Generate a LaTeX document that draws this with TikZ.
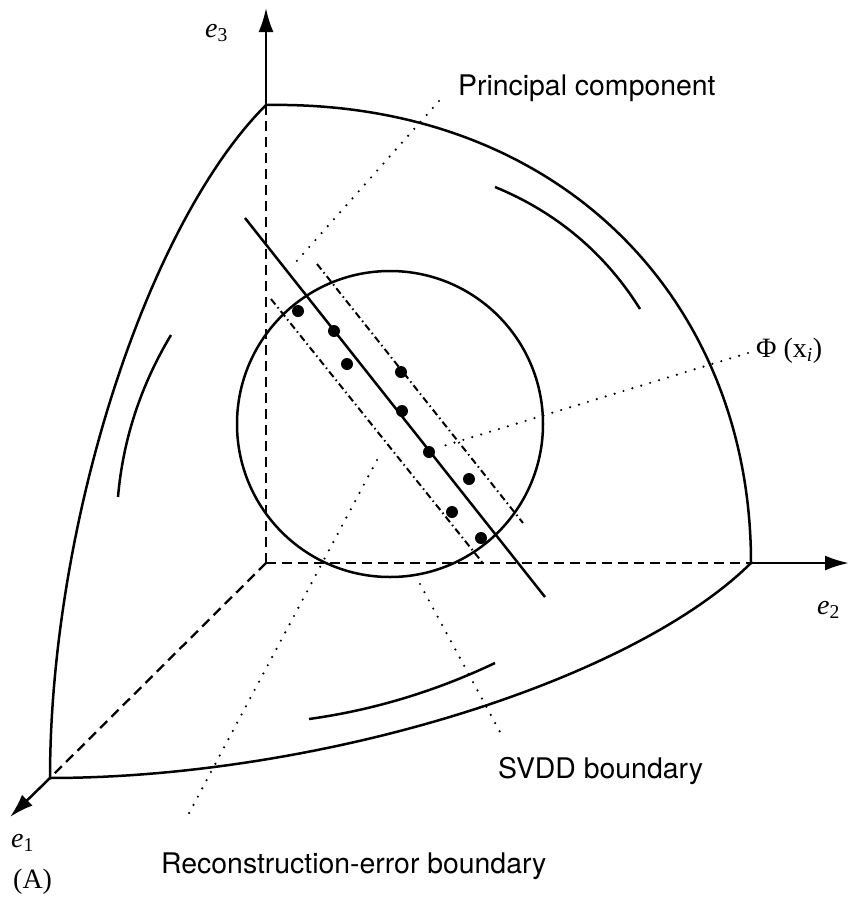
\documentclass[tikz,border=0pt]{standalone}
\usepackage{fontspec}
\newfontfamily\heros{TeX Gyre Heros}
\newfontfamily\tms{Liberation Serif}
\usetikzlibrary{arrows.meta}
\begin{document}
\begin{tikzpicture}[x=1pt,y=-1pt,
  thickline/.style={line width=2.5pt},
  axisdash/.style={line width=2.3pt, dash pattern=on 10pt off 6pt},
  leader/.style={line width=2.4pt, line cap=round, dash pattern=on 0pt off 9.3pt},
  dashdotline/.style={line width=2pt, dash pattern=on 7pt off 3.5pt on 1.5pt off 3.5pt},
  axisarrow/.style={line width=2.5pt, -{Latex[length=24pt,width=15pt]}},
  datapt/.style={circle, fill=black, inner sep=0pt, minimum size=12pt},
  lbl/.style={font=\heros\fontsize{28.4}{34}\selectfont, inner sep=0pt, anchor=base west},
  mlbl/.style={font=\tms\fontsize{28}{33}\selectfont, inner sep=0pt, anchor=base west}]
\path[use as bounding box] (0,0) rectangle (850,898);

% axes corners
\coordinate (O) at (266,563);
\coordinate (T) at (266,105);
\coordinate (R) at (751,563);
\coordinate (L) at (50,778);
\coordinate (Ttip) at (266,8);
\coordinate (Rtip) at (849,563);
\coordinate (Ltip) at (10,817);

% dashed hidden axes
\draw[axisdash] (O) -- (T);
\draw[axisdash] (O) -- (R);
\draw[axisdash] (O) -- (L);
% visible axes with arrows
\draw[axisarrow] (T) -- (Ttip);
\draw[axisarrow] (R) -- (Rtip);
\draw[axisarrow] (L) -- (Ltip);

% outer sphere octant
\draw[thickline] (T) .. controls (560,100) and (751,300) .. (R);
\draw[thickline] plot[domain=0:90,samples=60] ({266-216*sin(\x)},{563-458*cos(\x)+215*sin(\x)});
\draw[thickline] plot[domain=0:90,samples=60] ({266-216*cos(\x)+485*sin(\x)},{563+215*cos(\x)});

% inner short arcs
\coordinate (a1s) at (495,187); \coordinate (a1e) at (640,309);
\coordinate (a2s) at (171,335); \coordinate (a2e) at (118,497);
\coordinate (a3s) at (309,719); \coordinate (a3e) at (495,663);
\draw[thickline] (a1s) .. controls (556,212) and (605,253) .. (a1e);
\draw[thickline] (a2s) .. controls (141,385) and (123,439) .. (a2e);
\draw[thickline] (a3s) .. controls (374,710) and (436,691) .. (a3e);

% SVDD circle
\node[draw, circle, line width=2.5pt, inner sep=0pt, minimum size=306pt] (svdd) at (390,424) {};

% principal component and reconstruction-error boundaries
\coordinate (pc1) at (245,218); \coordinate (pc2) at (545,597);
\draw[thickline] (pc1) -- (pc2);
\coordinate (ub1) at (317,264); \coordinate (ub2) at (523,523);
\coordinate (lb1) at (271,299); \coordinate (lb2) at (482,562);
\draw[dashdotline] (ub1) -- (ub2);
\draw[dashdotline] (lb1) -- (lb2);

% data points
\node[datapt] (p1) at (298,311) {};
\node[datapt] (p2) at (334,331) {};
\node[datapt] (p3) at (347,364) {};
\node[datapt] (p4) at (401,372) {};
\node[datapt] (p5) at (402,411) {};
\node[datapt] (p6) at (429,452) {};
\node[datapt] (p7) at (469,479) {};
\node[datapt] (p8) at (452,512) {};
\node[datapt] (p9) at (481,538) {};

% labels
\node[mlbl] (e3) at (205,37) {\itshape e\textsubscript{\upshape 3}};
\node[mlbl] (e2) at (817,614) {\itshape e\textsubscript{\upshape 2}};
\node[mlbl] (e1) at (11,847) {\itshape e\textsubscript{\upshape 1}};
\node[mlbl] (A) at (13,888) {(A)};
\node[mlbl] (phi) at (756,357) {Φ (x\textsubscript{\itshape i})};
\node[lbl] (pctext) at (458,95) {Principal component};
\node[lbl] (svddtext) at (498,778) {SVDD boundary};
\node[lbl] (rectext) at (161,873) {Reconstruction-error boundary};

% leaders
\coordinate (pcl1) at (439,101); \coordinate (pcl2) at (295,263);
\coordinate (phl1) at (748,353); \coordinate (phl2) at (440,447);
\coordinate (rcl1) at (377,460); \coordinate (rcl2) at (187,817);
\coordinate (svl1) at (420,584); \coordinate (svl2) at (500,732);
\draw[leader] (pcl1) -- (pcl2);
\draw[leader] (phl1) -- (phl2);
\draw[leader] (rcl1) -- (rcl2);
\draw[leader] (svl1) -- (svl2);
\end{tikzpicture}
\end{document}
